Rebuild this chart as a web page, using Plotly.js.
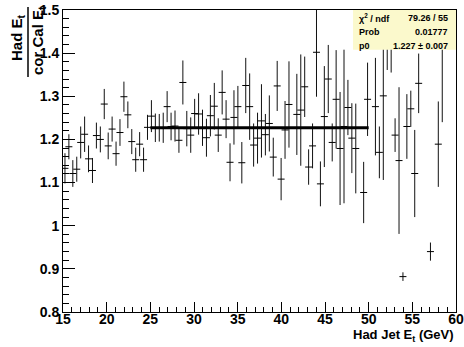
<!DOCTYPE html>
<html>
<head>
<meta charset="utf-8">
<script src="https://cdn.plot.ly/plotly-3.0.1.min.js"></script>
<style>html,body{margin:0;padding:0;background:#fff;}#chart{width:464px;height:347px;}</style>
</head>
<body>
<div id="chart"></div>
<script>
// Histogram definition (100 bins from 15 to 60 GeV)
const binLow = 15, binHigh = 60, nBins = 100;
// Bin contents: Had Et / cor Cal Et (null = empty bin)
const ratio = [
  1.133, 1.183, 1.121, 1.131, 1.193, 1.212, 1.155, 1.128, 1.209, 1.200,
  1.282, 1.185, 1.224, 1.167, 1.216, 1.299, 1.257, 1.195, 1.153, 1.189,
  1.153, 1.228, 1.254, 1.227, 1.227, 1.227, 1.276, 1.230, 1.231, 1.198,
  1.332, 1.225, 1.210, 1.260, 1.259, 1.227, 1.204, 1.255, 1.277, 1.210,
  1.309, 1.247, 1.147, 1.251, 1.276, 1.146, 1.325, 1.276, 1.187, 1.203,
  1.243, 1.211, 1.237, 1.159, 1.324, 1.108, 1.222, 1.281, null, 1.258,
  1.268, 1.322, 1.136, 1.185, 1.402, 1.097, 1.253, 1.340, 1.193, 1.293,
  1.179, 1.230, 1.274, 1.203, 1.179, null, 1.077, 1.293, null, 1.276,
  1.170, 1.301, 1.450, 1.450, 1.210, 1.151, 0.882, 1.230, 1.271, 1.121,
  1.330, null, null, 0.940, null, 1.189, 1.430, null, null, null
];
const ratioErr = [
  0.035, 0.029, 0.031, 0.029, 0.037, 0.041, 0.031, 0.029, 0.030, 0.030,
  0.035, 0.031, 0.029, 0.028, 0.031, 0.035, 0.031, 0.029, 0.028, 0.028,
  0.028, 0.029, 0.037, 0.033, 0.032, 0.035, 0.036, 0.032, 0.036, 0.029,
  0.051, 0.041, 0.041, 0.034, 0.048, 0.042, 0.044, 0.048, 0.054, 0.039,
  0.051, 0.044, 0.044, 0.063, 0.048, 0.048, 0.064, 0.077, 0.050, 0.059,
  0.085, 0.048, 0.065, 0.045, 0.058, 0.049, 0.067, 0.100, null, 0.094,
  0.129, 0.070, 0.041, 0.052, 0.103, 0.052, 0.117, 0.079, 0.044, 0.114,
  0.131, 0.178, 0.064, 0.081, 0.104, null, 0.071, 0.085, null, 0.113,
  0.060, 0.195, 0.089, 0.095, 0.039, 0.170, 0.010, 0.075, 0.042, 0.101,
  0.069, null, null, 0.021, null, 0.099, 0.190, null, null, null
];
// Fit: constant p0 over range
const fitRange = [25, 50];
const p0 = 1.227;
const statLabels = ["\u03c7<sup>2</sup> / ndf", "Prob", "p0"];
const statValues = ["79.26 / 55", "0.01777", "1.227 \u00b1 0.007"];

const bw = (binHigh - binLow) / nBins;
const xCenters = ratio.map((_, i) => binLow + bw * (i + 0.5));

const FONT = "Liberation Sans, Arial, Helvetica, sans-serif";

const data = [
  {
    type: "scatter", mode: "markers",
    x: xCenters, y: ratio,
    marker: {symbol: "line-ew", size: 5, color: "#000", line: {color: "#000", width: 1}},
    error_y: {type: "data", array: ratioErr, visible: true, width: 0, thickness: 1, color: "#111"},
    cliponaxis: true, hoverinfo: "skip"
  },
  {
    type: "scatter", mode: "lines",
    x: fitRange, y: [p0, p0],
    line: {color: "#000", width: 3}, hoverinfo: "skip"
  }
];

const shapes = [
  {type: "rect", xref: "paper", yref: "paper", x0: 0.738, x1: 1.0, y0: 0.868, y1: 1.0,
   fillcolor: "#fbf9cc", line: {width: 0}, layer: "above"}
];
// fraction bar of y title
shapes.push({type: "line", xref: "paper", yref: "paper", xsizemode: "pixel", ysizemode: "pixel",
  xanchor: 0, yanchor: 1, x0: -35, x1: -35, y0: 3, y1: -67, line: {color: "#000", width: 1.5}});

const rowY = [0.9735, 0.927, 0.881];
const annotations = [];
statLabels.forEach((t, i) => {
  annotations.push({xref: "paper", yref: "paper", x: 0.748, y: rowY[i], xanchor: "left", yanchor: "middle",
    text: "<b>" + t + "</b>", showarrow: false, font: {family: FONT, size: 9, color: "#000"}});
  annotations.push({xref: "paper", yref: "paper", x: 0.985, y: rowY[i], xanchor: "right", yanchor: "middle",
    text: "<b>" + statValues[i] + "</b>", showarrow: false, font: {family: FONT, size: 9, color: "#000"}});
});
annotations.push({xref: "paper", yref: "paper", x: 0, y: 1, xshift: -46, yshift: -28,
  xanchor: "center", yanchor: "middle", textangle: -90, showarrow: false,
  text: "<b>Had E<sub>t</sub></b>", font: {family: FONT, size: 15, color: "#000"}});
annotations.push({xref: "paper", yref: "paper", x: 0, y: 1, xshift: -25, yshift: -31,
  xanchor: "center", yanchor: "middle", textangle: -90, showarrow: false,
  text: "<b>cor Cal E<sub>t</sub></b>", font: {family: FONT, size: 15, color: "#000"}});
annotations.push({xref: "paper", yref: "paper", x: 1, y: 0, xshift: 0, yshift: -23,
  xanchor: "right", yanchor: "middle", showarrow: false,
  text: "<b>Had Jet E<sub>t</sub> (GeV)</b>", font: {family: FONT, size: 13, color: "#000"}});

const layout = {
  width: 464, height: 347,
  margin: {l: 63, r: 8, t: 10, b: 35, pad: 0},
  paper_bgcolor: "#fff", plot_bgcolor: "#fff",
  showlegend: false,
  font: {family: FONT, color: "#000"},
  xaxis: {
    range: [binLow, binHigh], dtick: 5, tick0: 15,
    ticks: "inside", ticklen: 10, tickwidth: 1, tickcolor: "#000",
    ticklabelstandoff: -6,
    minor: {dtick: 1, ticks: "inside", ticklen: 5, tickwidth: 1, tickcolor: "#000"},
    showline: true, mirror: true, linecolor: "#000", linewidth: 1,
    showgrid: false, zeroline: false,
    tickfont: {family: FONT, size: 14, color: "#000", weight: "bold"}
  },
  yaxis: {
    range: [0.8, 1.5], dtick: 0.1, tick0: 0.8,
    ticks: "inside", ticklen: 12, tickwidth: 1, tickcolor: "#000",
    minor: {dtick: 0.02, ticks: "inside", ticklen: 6, tickwidth: 1, tickcolor: "#000"},
    showline: true, mirror: true, linecolor: "#000", linewidth: 1,
    showgrid: false, zeroline: false,
    tickfont: {family: FONT, size: 14, color: "#000", weight: "bold"}
  },
  shapes: shapes,
  annotations: annotations
};

Plotly.newPlot("chart", data, layout, {staticPlot: true, displayModeBar: false});
</script>
</body>
</html>
